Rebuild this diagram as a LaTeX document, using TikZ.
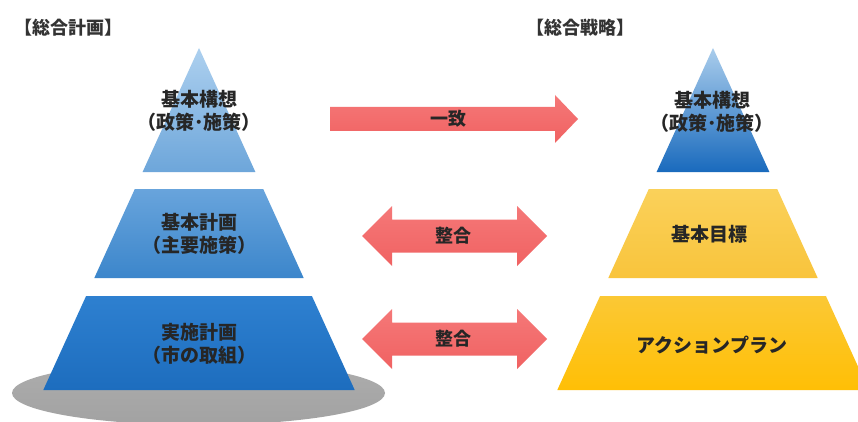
\documentclass[tikz,border=0pt]{standalone}
\usepackage{fontspec}
\newfontfamily\jp{Noto Sans CJK JP}
\begin{document}
\begin{tikzpicture}[x=1pt,y=-1pt,
  lbl/.style={font=\jp\bfseries\fontsize{19}{23.5}\selectfont, text=black!85, align=center, inner sep=0pt},
  ttl/.style={font=\jp\bfseries\fontsize{18}{20}\selectfont, text=black!80, inner sep=0pt},
  albl/.style={font=\jp\bfseries\fontsize{18}{20}\selectfont, text=black!85, inner sep=0pt},
  redarrow/.style={top color=arrowtop, bottom color=arrowbot, draw=none},
  bluetop/.style={top color=ltA, bottom color=ltB},
  bluemid/.style={top color=lmA, bottom color=lmB},
  bluebot/.style={top color=lbA, bottom color=lbB},
  rtop/.style={top color=rtA, bottom color=rtB},
  ymid/.style={top color=ymA, bottom color=ymB},
  ybot/.style={top color=ybA, bottom color=ybB}]
\definecolor{arrowtop}{HTML}{F57878}
\definecolor{arrowbot}{HTML}{F06262}
\definecolor{ltA}{HTML}{ADD0EF}
\definecolor{ltB}{HTML}{6DA6DA}
\definecolor{lmA}{HTML}{68A4DC}
\definecolor{lmB}{HTML}{3C86CB}
\definecolor{lbA}{HTML}{2E80D0}
\definecolor{lbB}{HTML}{1D6DBE}
\definecolor{rtA}{HTML}{AACDEC}
\definecolor{rtB}{HTML}{196ABD}
\definecolor{ymA}{HTML}{FAD15A}
\definecolor{ymB}{HTML}{F9C43C}
\definecolor{ybA}{HTML}{FBC835}
\definecolor{ybB}{HTML}{FFBF05}
\definecolor{grayA}{HTML}{ADADAD}
\definecolor{grayB}{HTML}{A2A2A2}
\useasboundingbox (0,0) rectangle (858,422);
\clip (0,0) rectangle (858,422);
\fill[white] (0,0) rectangle (858,422);

% titles
\node[ttl] (t1) at (68,28) {【総合計画】};
\node[ttl] (t2) at (580,28) {【総合戦略】};

% shadow ellipse
\shade[top color=grayA, bottom color=grayB] (198.5,393) ellipse [x radius=186.5, y radius=32];

% left pyramid
\shade[bluetop] (199,48) -- (255.4,172) -- (142.6,172) -- cycle;
\shade[bluemid] (134.8,189) -- (263.2,189) -- (303.7,278) -- (94.3,278) -- cycle;
\shade[bluebot] (86.1,296) -- (311.9,296) -- (354.7,390) -- (43.3,390) -- cycle;

% right pyramid
\shade[rtop] (713,48) -- (769.4,172) -- (656.6,172) -- cycle;
\shade[ymid] (648.8,189) -- (777.2,189) -- (817.7,278) -- (608.3,278) -- cycle;
\shade[ybot] (600.1,296) -- (825.9,296) -- (868.7,390) -- (557.3,390) -- cycle;

% texts left
\node[lbl] (l1) at (199,111) {基本構想\\（政策･施策）};
\node[lbl] (l2) at (199,234) {基本計画\\（主要施策）};
\node[lbl] (l3) at (199,344) {実施計画\\（市の取組）};

% texts right
\node[lbl] (r1) at (712,112) {基本構想\\（政策･施策）};
\node[lbl] (r2) at (709,234) {基本目標};
\node[lbl] (r3) at (712,345) {アクションプラン};

% arrows
\shade[redarrow] (330,107) -- (555,107) -- (555,95) -- (578,119) -- (555,143) -- (555,131) -- (330,131) -- cycle;
\shade[redarrow] (362,236) -- (392,206) -- (392,219.5) -- (517,219.5) -- (517,206) -- (547,236) -- (517,266) -- (517,252.5) -- (392,252.5) -- (392,266) -- cycle;
\shade[redarrow] (362,339) -- (392,309) -- (392,322.5) -- (517,322.5) -- (517,309) -- (547,339) -- (517,369) -- (517,355.5) -- (392,355.5) -- (392,369) -- cycle;

\node[albl] (a1) at (448,119) {一致};
\node[albl] (a2) at (453,236) {整合};
\node[albl] (a3) at (453,339) {整合};
\end{tikzpicture}
\end{document}
